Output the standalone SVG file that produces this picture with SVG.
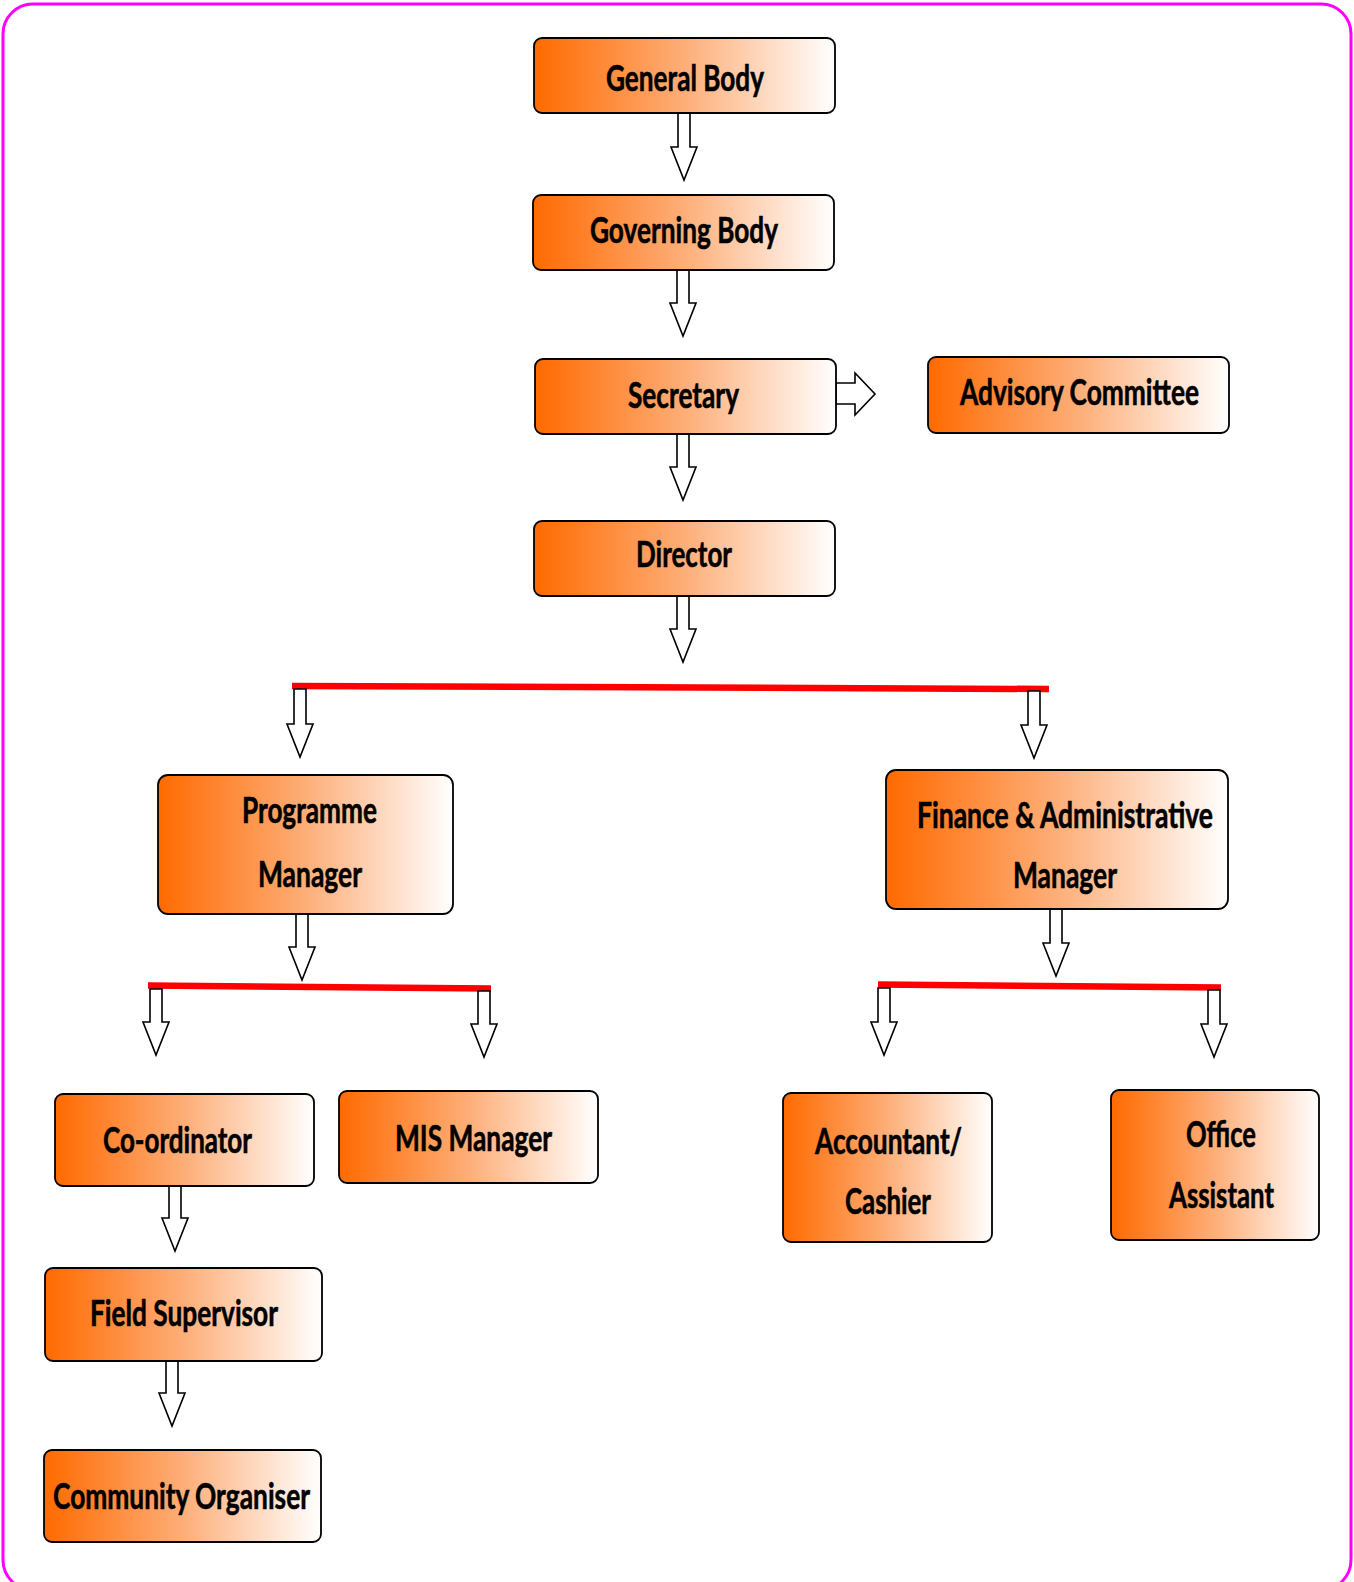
<svg xmlns="http://www.w3.org/2000/svg" width="1354" height="1582" viewBox="0 0 1354 1582">
<defs>
<linearGradient id="og" x1="0" y1="0" x2="1" y2="0">
<stop offset="0" stop-color="#FF6A00"/>
<stop offset="0.5" stop-color="#FDAE78"/>
<stop offset="1" stop-color="#FFFFFF"/>
</linearGradient>
<style>
.box{fill:url(#og);stroke:#000;stroke-width:1.8}
.t{font-family:Lato,"Open Sans","Liberation Sans",sans-serif;font-weight:700;font-size:37px;fill:#000;stroke:#000;stroke-width:0.6}
.arr{fill:#fff;stroke:#000;stroke-width:1.6;stroke-linejoin:miter}
.bar{stroke:#FF0000;stroke-width:6.5;fill:none}
</style>
</defs>
<rect x="3" y="4" width="1348" height="1586" rx="30" fill="#fff" stroke="#FF00FF" stroke-width="3"/>

<g id="connectors">
<line class="bar" x1="292" y1="686" x2="1049" y2="689"/>
<line class="bar" x1="148" y1="985.5" x2="491" y2="988.5"/>
<line class="bar" x1="878" y1="984.5" x2="1221" y2="987.5"/>
<path class="arr" d="M678,113 L690,113 L690,147 L697,147 L684,180 L671,147 L678,147 Z"/>
<path class="arr" d="M677,270 L689,270 L689,303 L696,303 L683,336 L670,303 L677,303 Z"/>
<path class="arr" d="M677,434 L689,434 L689,467 L696,467 L683,500 L670,467 L677,467 Z"/>
<path class="arr" d="M677,596 L689,596 L689,629 L696,629 L683,662 L670,629 L677,629 Z"/>
<path class="arr" d="M294,689 L306,689 L306,724 L313,724 L300,757 L287,724 L294,724 Z"/>
<path class="arr" d="M1028,691 L1040,691 L1040,725 L1047,725 L1034,758 L1021,725 L1028,725 Z"/>
<path class="arr" d="M296,914 L308,914 L308,947 L315,947 L302,980 L289,947 L296,947 Z"/>
<path class="arr" d="M150,989 L162,989 L162,1022 L169,1022 L156,1055 L143,1022 L150,1022 Z"/>
<path class="arr" d="M478,991 L490,991 L490,1024 L497,1024 L484,1057 L471,1024 L478,1024 Z"/>
<path class="arr" d="M1050,909 L1062,909 L1062,943 L1069,943 L1056,976 L1043,943 L1050,943 Z"/>
<path class="arr" d="M878,988 L890,988 L890,1022 L897,1022 L884,1055 L871,1022 L878,1022 Z"/>
<path class="arr" d="M1208,990 L1220,990 L1220,1024 L1227,1024 L1214,1057 L1201,1024 L1208,1024 Z"/>
<path class="arr" d="M169,1186 L181,1186 L181,1218 L188,1218 L175,1251 L162,1218 L169,1218 Z"/>
<path class="arr" d="M166,1361 L178,1361 L178,1393 L185,1393 L172,1426 L159,1393 L166,1393 Z"/>
<path class="arr" d="M836,383 L855,383 L855,373 L875,394 L855,415 L855,404 L836,404 Z"/>
</g>

<g id="general-body">
<rect class="box" x="534" y="38" width="301" height="75" rx="8"/>
<text class="t" x="606" y="91" textLength="158" lengthAdjust="spacingAndGlyphs">General Body</text>
</g>
<g id="governing-body">
<rect class="box" x="533" y="195" width="301" height="75" rx="8"/>
<text class="t" x="590" y="243" textLength="188" lengthAdjust="spacingAndGlyphs">Governing Body</text>
</g>
<g id="secretary">
<rect class="box" x="535" y="359" width="301" height="75" rx="8"/>
<text class="t" x="628" y="408" textLength="111" lengthAdjust="spacingAndGlyphs">Secretary</text>
</g>
<g id="advisory-committee">
<rect class="box" x="928" y="357" width="301" height="76" rx="8"/>
<text class="t" x="960" y="405" textLength="239" lengthAdjust="spacingAndGlyphs">Advisory Committee</text>
</g>
<g id="director">
<rect class="box" x="534" y="521" width="301" height="75" rx="8"/>
<text class="t" x="636" y="567" textLength="96" lengthAdjust="spacingAndGlyphs">Director</text>
</g>
<g id="programme-manager">
<rect class="box" x="158" y="775" width="295" height="139" rx="10"/>
<text class="t" x="242" y="823" textLength="135" lengthAdjust="spacingAndGlyphs">Programme</text>
<text class="t" x="258" y="887" textLength="104" lengthAdjust="spacingAndGlyphs">Manager</text>
</g>
<g id="finance-admin-manager">
<rect class="box" x="886" y="770" width="342" height="139" rx="10"/>
<text class="t" x="917" y="828" textLength="296" lengthAdjust="spacingAndGlyphs">Finance &amp; Administrative</text>
<text class="t" x="1013" y="888" textLength="104" lengthAdjust="spacingAndGlyphs">Manager</text>
</g>
<g id="co-ordinator">
<rect class="box" x="55" y="1094" width="259" height="92" rx="8"/>
<text class="t" x="103" y="1153" textLength="149" lengthAdjust="spacingAndGlyphs">Co-ordinator</text>
</g>
<g id="mis-manager">
<rect class="box" x="339" y="1091" width="259" height="92" rx="8"/>
<text class="t" x="395" y="1151" textLength="157" lengthAdjust="spacingAndGlyphs">MIS Manager</text>
</g>
<g id="accountant-cashier">
<rect class="box" x="783" y="1093" width="209" height="149" rx="8"/>
<text class="t" x="815" y="1154" textLength="147" lengthAdjust="spacingAndGlyphs">Accountant/</text>
<text class="t" x="845" y="1214" textLength="86" lengthAdjust="spacingAndGlyphs">Cashier</text>
</g>
<g id="office-assistant">
<rect class="box" x="1111" y="1090" width="208" height="150" rx="8"/>
<text class="t" x="1186" y="1147" textLength="70" lengthAdjust="spacingAndGlyphs">Office</text>
<text class="t" x="1169" y="1208" textLength="105" lengthAdjust="spacingAndGlyphs">Assistant</text>
</g>
<g id="field-supervisor">
<rect class="box" x="45" y="1268" width="277" height="93" rx="8"/>
<text class="t" x="90" y="1326" textLength="188" lengthAdjust="spacingAndGlyphs">Field Supervisor</text>
</g>
<g id="community-organiser">
<rect class="box" x="44" y="1450" width="277" height="92" rx="8"/>
<text class="t" x="53" y="1509" textLength="257" lengthAdjust="spacingAndGlyphs">Community Organiser</text>
</g>
</svg>
